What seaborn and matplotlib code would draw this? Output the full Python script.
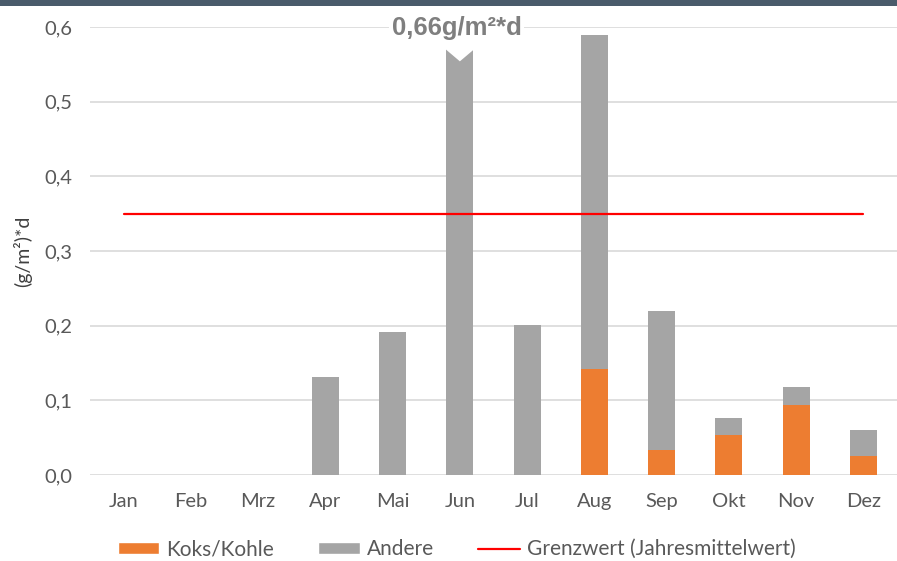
import matplotlib
matplotlib.use("Agg")
import matplotlib.pyplot as plt
import numpy as np
import pandas as pd
import seaborn as sns
from matplotlib.lines import Line2D
from matplotlib.patches import Patch, Polygon, Rectangle

# ---- data ------------------------------------------------------------------
MONTHS = ["Jan", "Feb", "Mrz", "Apr", "Mai", "Jun", "Jul", "Aug", "Sep", "Okt", "Nov", "Dez"]
KOKS = [0, 0, 0, 0, 0, 0, 0, 0.142, 0.033, 0.054, 0.094, 0.025]
ANDERE = [0, 0, 0, 0.131, 0.191, 0.66, 0.201, 0.447, 0.187, 0.022, 0.024, 0.035]
GRENZWERT = 0.35
Y_TICKS = [0.0, 0.1, 0.2, 0.3, 0.4, 0.5, 0.6]

# ---- styling ---------------------------------------------------------------
ORANGE = "#ED7D31"
GREY = "#A5A5A5"
RED = "#FF0000"
TXT = "#595959"
YMAX = 0.6
CAP = 0.57  # bars above the axis top are cut off here

sns.set_theme(style="white")
plt.rcParams["font.family"] = ["Lato", "DejaVu Sans"]

df = pd.DataFrame({"month": MONTHS, "koks": KOKS, "andere": ANDERE})
df["total"] = df["koks"] + df["andere"]
df["shown"] = df["total"].where(df["total"] <= YMAX, CAP)

fig = plt.figure(figsize=(8.97, 5.61), dpi=100)
ax = fig.add_axes([90 / 897, 1 - 475 / 561, 1 - 90 / 897, 448 / 561])

# stacked bars: grey total underneath, orange part on top
sns.barplot(data=df, x="month", y="shown", color=GREY, saturation=1, width=0.4,
            linewidth=0, ax=ax, zorder=2)
sns.barplot(data=df, x="month", y="koks", color=ORANGE, saturation=1, width=0.4,
            linewidth=0, ax=ax, zorder=3)

# notch on the clipped bar(s)
for i, tot in enumerate(df["total"]):
    if tot > YMAX:
        bar = ax.patches[i]
        x0, w, h = bar.get_x(), bar.get_width(), bar.get_height()
        ax.add_patch(Polygon([(x0 - 0.01, h + 0.01), (x0 - 0.01, h), (x0 + w / 2, h - 0.016),
                              (x0 + w + 0.01, h), (x0 + w + 0.01, h + 0.01)],
                             closed=True, facecolor="white", edgecolor="none", zorder=4))
        ax.text(i - 0.05, 0.599, f"{tot:.2f}".replace(".", ",") + "g/m²*d",
                ha="center", va="center", fontsize=18.5, fontweight="bold", color="#7F7F7F",
                family=["Liberation Sans", "DejaVu Sans"],
                bbox=dict(facecolor="white", edgecolor="none", pad=2), zorder=6)

# limit line
ax.plot(np.arange(len(MONTHS)), [GRENZWERT] * len(MONTHS), color=RED, lw=1.6, zorder=5)

ax.set_ylim(0, YMAX)
ax.set_xlim(-0.5, len(MONTHS) - 0.5)
ax.set_yticks(Y_TICKS)
ax.set_yticklabels([f"{t:.1f}".replace(".", ",") for t in Y_TICKS])
ax.yaxis.grid(True, color="#D9D9D9", lw=1.2, zorder=0)
ax.set_axisbelow(True)
for s in ax.spines.values():
    s.set_visible(False)
ax.tick_params(axis="y", length=0, pad=13, labelsize=14.5, labelcolor=TXT)
ax.tick_params(axis="x", length=0, pad=13, labelsize=14.5, labelcolor=TXT)
ax.set_xlabel("")
ax.set_ylabel("(g/m²)*d", fontsize=14, color="#404040")
ax.yaxis.set_label_coords(-58 / 807, 0.5)

# legend
handles = [Patch(facecolor=ORANGE, label="Koks/Kohle"),
           Patch(facecolor=GREY, label="Andere"),
           Line2D([0], [0], color=RED, lw=1.6, label="Grenzwert (Jahresmittelwert)")]
fig.legend(handles=handles, loc="center", bbox_to_anchor=(0.509, 0.021), ncol=3, frameon=False,
           fontsize=15, labelcolor=TXT, handlelength=2.0, handleheight=0.5,
           handletextpad=0.35, columnspacing=2.1)

# dark strip on top of the image
fig.patches.append(Rectangle((0, 1 - 6 / 561), 1, 6 / 561, transform=fig.transFigure,
                             facecolor="#4A5B6B", edgecolor="none", zorder=10))

fig.savefig("out.png", dpi=100, facecolor="white")
